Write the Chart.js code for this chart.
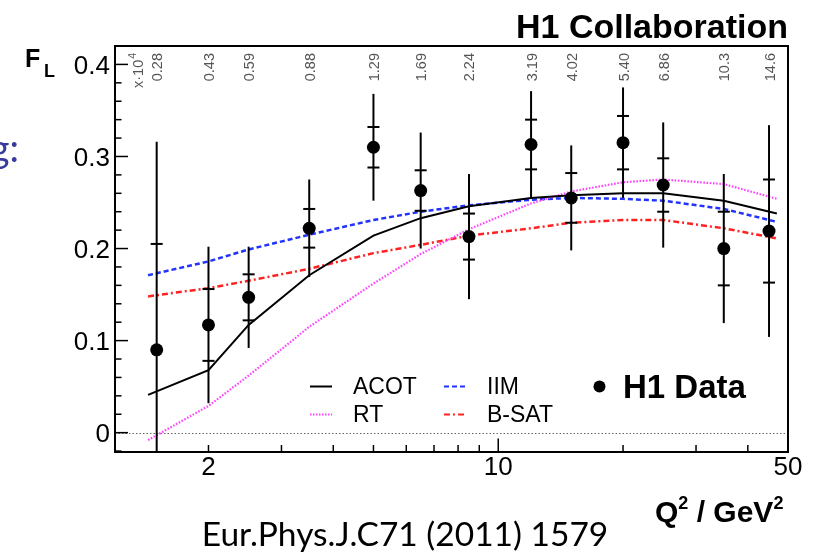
<!DOCTYPE html>
<html><head><meta charset="utf-8">
<script src="https://cdn.jsdelivr.net/npm/chart.js@4"></script>
<style>html,body{margin:0;padding:0;background:#fff}#wrap{width:820px;height:552px;position:relative}</style>
</head><body><div id="wrap"><canvas id="c" width="820" height="552"></canvas></div>
<script>
// ---- data ----
const q2 = [1.5, 2, 2.5, 3.5, 5, 6.5, 8.5, 12, 15, 20, 25, 35, 45];
const xBjLabels = ['0.28','0.43','0.59','0.88','1.29','1.69','2.24','3.19','4.02','5.40','6.86','10.3','14.6'];
const fl = [0.090, 0.117, 0.147, 0.222, 0.310, 0.263, 0.213, 0.313, 0.255, 0.315, 0.269, 0.200, 0.219];
const statErr = [0.115, 0.039, 0.025, 0.021, 0.022, 0.022, 0.025, 0.027, 0.027, 0.029, 0.029, 0.040, 0.056];
const totErr = [0.226, 0.085, 0.055, 0.053, 0.058, 0.063, 0.068, 0.058, 0.057, 0.060, 0.068, 0.081, 0.115];
const curveQ2 = [1.43, 2, 2.5, 3.5, 5, 6.5, 8.5, 12, 15, 20, 25, 35, 47];
const acot = [0.041, 0.068, 0.117, 0.171, 0.214, 0.233, 0.246, 0.255, 0.258, 0.260, 0.260, 0.252, 0.238];
const rt   = [-0.008, 0.029, 0.062, 0.115, 0.162, 0.194, 0.221, 0.249, 0.262, 0.272, 0.275, 0.270, 0.254];
const iim  = [0.171, 0.186, 0.199, 0.215, 0.231, 0.240, 0.247, 0.253, 0.255, 0.254, 0.252, 0.243, 0.229];
const bsat = [0.148, 0.157, 0.165, 0.178, 0.195, 0.204, 0.214, 0.222, 0.228, 0.231, 0.231, 0.222, 0.211];
const yMajor = [0, 0.1, 0.2, 0.3, 0.4];
const yTickLabels = ['0', '0.1', '0.2', '0.3', '0.4'];
const xLabeled = [2, 10, 50];
const xTickLabels = ['2', '10', '50'];
const xMinor = [2, 3, 4, 5, 6, 7, 8, 9, 20, 30, 40];
const xMajor = [10];

const pts = (xs, ys) => xs.map((x, i) => ({x: x, y: ys[i]}));
const SANS = '"Liberation Sans", Arial, sans-serif';

const h1Plugin = {
  id: 'h1',
  beforeDatasetsDraw(chart) {
    const {ctx, chartArea: a, scales: {x, y}} = chart;
    ctx.save();
    ctx.strokeStyle = '#666';
    ctx.lineWidth = 1;
    ctx.setLineDash([1.5, 2]);
    const y0 = Math.round(y.getPixelForValue(0)) + 0.5;
    ctx.beginPath(); ctx.moveTo(a.left, y0); ctx.lineTo(a.right, y0); ctx.stroke();
    ctx.restore();
  },
  afterDatasetsDraw(chart) {
    const {ctx, chartArea: a, scales: {x, y}} = chart;
    ctx.save();
    ctx.beginPath(); ctx.rect(a.left, a.top, a.right - a.left, a.bottom - a.top); ctx.clip();
    ctx.strokeStyle = '#000'; ctx.lineWidth = 2;
    q2.forEach((q, i) => {
      const px = x.getPixelForValue(q);
      ctx.beginPath();
      ctx.moveTo(px, y.getPixelForValue(fl[i] + totErr[i]));
      ctx.lineTo(px, y.getPixelForValue(fl[i] - totErr[i]));
      ctx.stroke();
      [fl[i] + statErr[i], fl[i] - statErr[i]].forEach(v => {
        const py = y.getPixelForValue(v);
        ctx.beginPath(); ctx.moveTo(px - 6, py); ctx.lineTo(px + 6, py); ctx.stroke();
      });
    });
    ctx.restore();
  },
  afterDraw(chart) {
    const {ctx, chartArea: a, scales: {x, y}} = chart;
    ctx.save();
    // frame
    ctx.strokeStyle = '#000'; ctx.lineWidth = 2; ctx.setLineDash([]);
    ctx.strokeRect(a.left, a.top, a.right - a.left, a.bottom - a.top);
    // y ticks
    ctx.lineWidth = 1.5;
    for (let v = -0.02; v <= 0.421; v += 0.02) {
      const r = Math.round(v * 100) / 100;
      const major = yMajor.some(m => Math.abs(m - r) < 1e-6);
      const py = y.getPixelForValue(r);
      ctx.beginPath(); ctx.moveTo(a.left, py); ctx.lineTo(a.left + (major ? 13 : 6.5), py); ctx.stroke();
    }
    // x ticks
    xMinor.forEach(v => {
      const px = x.getPixelForValue(v);
      ctx.beginPath(); ctx.moveTo(px, a.bottom); ctx.lineTo(px, a.bottom - 7); ctx.stroke();
    });
    xMajor.forEach(v => {
      const px = x.getPixelForValue(v);
      ctx.beginPath(); ctx.moveTo(px, a.bottom); ctx.lineTo(px, a.bottom - 13.5); ctx.stroke();
    });
    // y tick labels
    ctx.fillStyle = '#000';
    ctx.font = '26px ' + SANS;
    ctx.textAlign = 'right'; ctx.textBaseline = 'middle';
    yMajor.forEach((v, i) => ctx.fillText(yTickLabels[i], 110, y.getPixelForValue(v) + 2));
    // x tick labels
    ctx.textAlign = 'center'; ctx.textBaseline = 'alphabetic';
    xLabeled.forEach((v, i) => ctx.fillText(xTickLabels[i], x.getPixelForValue(v), 475));
    // top x_Bj labels (rotated)
    ctx.fillStyle = '#555';
    ctx.font = '14.5px ' + SANS;
    q2.forEach((q, i) => {
      ctx.save();
      ctx.translate(x.getPixelForValue(q) + 1.5, 53);
      ctx.rotate(-Math.PI / 2);
      ctx.textAlign = 'right'; ctx.textBaseline = 'middle';
      ctx.fillText(xBjLabels[i], 0, 0);
      ctx.restore();
    });
    ctx.save();
    ctx.translate(138.5, 88);
    ctx.rotate(-Math.PI / 2);
    ctx.textAlign = 'left'; ctx.textBaseline = 'middle';
    ctx.fillText('x\u00b710', 0, 0);
    const w = ctx.measureText('x\u00b710').width;
    ctx.font = '10.5px ' + SANS;
    ctx.fillText('4', w + 1, -5);
    ctx.restore();
    // title
    ctx.fillStyle = '#000';
    ctx.font = 'bold 34px ' + SANS;
    ctx.textAlign = 'right'; ctx.textBaseline = 'alphabetic';
    ctx.fillText('H1 Collaboration', 788, 38);
    // F_L
    ctx.textAlign = 'left';
    ctx.font = 'bold 25px ' + SANS;
    ctx.fillText('F', 25, 67);
    ctx.font = 'bold 18px ' + SANS;
    ctx.fillText('L', 44, 77);
    // x title
    let xx = 655;
    const seg = (t, f, dy) => { ctx.font = f; ctx.fillText(t, xx, 522 + dy); xx += ctx.measureText(t).width; };
    seg('Q', 'bold 30px ' + SANS, 0);
    seg('2', 'bold 18px ' + SANS, -13);
    seg(' / GeV', 'bold 30px ' + SANS, 0);
    seg('2', 'bold 18px ' + SANS, -13);
    // legend
    ctx.font = '23px ' + SANS;
    ctx.textBaseline = 'alphabetic';
    const leg = [
      {t: 'ACOT', c: '#000', d: [], lx: 310, ty: 394},
      {t: 'RT', c: '#ff44ff', d: [1.5, 1.5], lx: 310, ty: 422},
      {t: 'IIM', c: '#2233ff', d: [5, 3], lx: 444, ty: 394},
      {t: 'B-SAT', c: '#ff2222', d: [6, 3, 2, 3], lx: 444, ty: 422}
    ];
    leg.forEach(L => {
      ctx.strokeStyle = L.c; ctx.lineWidth = 2; ctx.setLineDash(L.d);
      ctx.beginPath(); ctx.moveTo(L.lx, L.ty - 7.5); ctx.lineTo(L.lx + 22, L.ty - 7.5); ctx.stroke();
      ctx.fillStyle = '#000';
      ctx.fillText(L.t, L.lx + 43, L.ty);
    });
    ctx.setLineDash([]);
    ctx.beginPath(); ctx.arc(599.5, 386.5, 6, 0, Math.PI * 2); ctx.fill();
    ctx.font = 'bold 33px ' + SANS;
    ctx.fillText('H1 Data', 623, 398);
    // slide text
    ctx.font = '33.5px Lato, "Open Sans", sans-serif';
    ctx.textAlign = 'center';
    ctx.fillText('Eur.Phys.J.C71 (2011) 1579', 405, 546);
    ctx.fillStyle = '#3a3a9c';
    ctx.textAlign = 'right';
    ctx.font = '38px Lato, "Open Sans", sans-serif';
    ctx.fillText('g:', 19, 162);
    ctx.restore();
  }
};

new Chart(document.getElementById('c'), {
  type: 'scatter',
  data: {
    datasets: [
      {label: 'H1 Data', data: pts(q2, fl), pointRadius: 6.5, pointHoverRadius: 6.5, backgroundColor: '#000', borderWidth: 0, showLine: false, order: 0},
      {label: 'ACOT', data: pts(curveQ2, acot), showLine: true, borderColor: '#000', borderWidth: 2, pointRadius: 0, order: 1},
      {label: 'RT', data: pts(curveQ2, rt), showLine: true, borderColor: '#ff44ff', borderWidth: 2.2, borderDash: [1.6, 1.6], pointRadius: 0, order: 2},
      {label: 'IIM', data: pts(curveQ2, iim), showLine: true, borderColor: '#2233ff', borderWidth: 2.5, borderDash: [5, 3], pointRadius: 0, order: 3},
      {label: 'B-SAT', data: pts(curveQ2, bsat), showLine: true, borderColor: '#ff2222', borderWidth: 2.5, borderDash: [6, 3, 2, 3], pointRadius: 0, order: 4}
    ]
  },
  options: {
    responsive: false, animation: false, devicePixelRatio: 1,
    layout: {padding: {left: 115, right: 32, top: 46, bottom: 100}},
    plugins: {legend: {display: false}, tooltip: {enabled: false}},
    events: [],
    scales: {
      x: {type: 'logarithmic', min: 1.19, max: 50, display: false},
      y: {type: 'linear', min: -0.021, max: 0.42, display: false}
    }
  },
  plugins: [h1Plugin]
});
</script></body></html>
